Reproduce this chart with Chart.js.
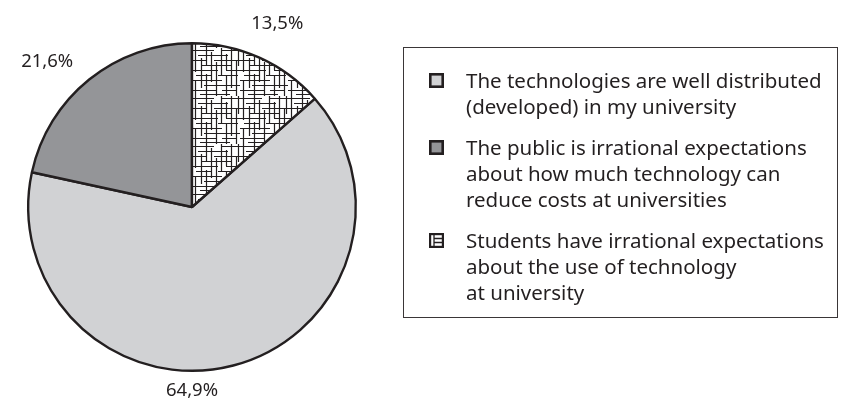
<!DOCTYPE html>
<html>
<head>
<meta charset="utf-8">
<script src="https://cdn.jsdelivr.net/npm/chart.js@4/dist/chart.umd.min.js"></script>
<style>
  html, body { margin: 0; padding: 0; background: #fff; }
  #wrap { position: relative; width: 858px; height: 407px; font-family: "Noto Sans", sans-serif; color: #231f20; }
  #pie { position: absolute; left: 0; top: 0; }
  #legend {
    position: absolute; left: 403px; top: 47px; width: 435px; height: 271px;
    box-sizing: border-box; border: 1px solid #3a3637; padding: 19px 0 0 0;
  }
  .item { display: flex; align-items: flex-start; margin-bottom: 15px; }
  .item canvas { margin: 6px 0 0 25px; flex: none; }
  .item .txt { margin-left: 22px; font-size: 20.5px; line-height: 26px; white-space: nowrap; }
</style>
</head>
<body>
<div id="wrap">
  <canvas id="pie" width="858" height="407"></canvas>
  <div id="legend"></div>
</div>
<script>
// answers, in legend order
const categories = [
  ['The technologies are well distributed', '(developed) in my university'],
  ['The public is irrational expectations', 'about how much technology can', 'reduce costs at universities'],
  ['Students have irrational expectations', 'about the use of technology', 'at university']
];
const shares = [64.9, 21.6, 13.5];
const shareLabels = ['64,9%', '21,6%', '13,5%'];

// where each percentage sits: angle from 12 o'clock and gap beyond the rim
const labelAngles = [180, 315, 25];
const labelGaps = [20, 41, 38];

const INK = '#231f20';

// crosshatch tile for the third slice
const hSegs = [
  [2, 0, 22], [2, 30, 48], [7, 6, 36], [12, 0, 14], [12, 22, 48], [17, 10, 40],
  [22, 0, 26], [22, 34, 48], [27, 4, 20], [27, 26, 46], [32, 0, 30], [37, 12, 48],
  [42, 0, 24], [42, 30, 44], [46, 8, 38]
];
const vSegs = [
  [3, 0, 24], [3, 32, 48], [9, 10, 40], [14, 0, 18], [14, 26, 48], [19, 4, 34],
  [24, 14, 48], [29, 0, 28], [34, 6, 22], [34, 28, 48], [39, 0, 40], [44, 12, 48],
  [46, 0, 18]
];

function makeHatch(ctx) {
  const tile = document.createElement('canvas');
  tile.width = 48; tile.height = 48;
  const t = tile.getContext('2d');
  t.fillStyle = '#fff';
  t.fillRect(0, 0, 48, 48);
  t.strokeStyle = INK;
  t.lineWidth = 1.2;
  t.beginPath();
  hSegs.forEach(([y, x1, x2]) => { t.moveTo(x1, y + 0.5); t.lineTo(x2, y + 0.5); });
  vSegs.forEach(([x, y1, y2]) => { t.moveTo(x + 0.5, y1); t.lineTo(x + 0.5, y2); });
  t.stroke();
  return ctx.createPattern(tile, 'repeat');
}

const ctx = document.getElementById('pie').getContext('2d');
const fills = ['#d1d2d4', '#949598', makeHatch(ctx)];

// percent labels around the pie
const sliceLabels = {
  id: 'sliceLabels',
  afterDraw(chart) {
    const c = chart.ctx;
    const arcs = chart.getDatasetMeta(0).data;
    c.save();
    c.font = '18.5px "Noto Sans"';
    c.fillStyle = INK;
    c.textAlign = 'center';
    c.textBaseline = 'middle';
    arcs.forEach((arc, i) => {
      const a = labelAngles[i] * Math.PI / 180;
      const r = arc.outerRadius + labelGaps[i];
      c.fillText(shareLabels[i], arc.x + r * Math.sin(a), arc.y - r * Math.cos(a));
    });
    c.restore();
  }
};

// boxed legend built from the chart's own items
function drawSwatch(cv, i) {
  const s = cv.getContext('2d');
  if (i < 2) {
    s.fillStyle = fills[i];
    s.fillRect(0, 0, 15, 15);
    s.strokeStyle = INK; s.lineWidth = 2.6;
    s.strokeRect(1.3, 1.3, 12.4, 12.4);
  } else {
    s.fillStyle = '#fff';
    s.fillRect(0, 0, 15, 15);
    s.strokeStyle = INK; s.lineWidth = 2.2;
    s.strokeRect(1.1, 1.1, 12.8, 12.8);
    s.lineWidth = 1.3;
    s.beginPath();
    s.moveTo(5, 1); s.lineTo(5, 14);
    s.moveTo(5, 5.5); s.lineTo(14, 5.5);
    s.moveTo(5, 9.5); s.lineTo(14, 9.5);
    s.stroke();
  }
}

const htmlLegend = {
  id: 'htmlLegend',
  afterUpdate(chart) {
    const box = document.getElementById('legend');
    box.innerHTML = '';
    chart.data.labels.forEach((lines, i) => {
      const row = document.createElement('div');
      row.className = 'item';
      const sw = document.createElement('canvas');
      sw.width = 15; sw.height = 15;
      drawSwatch(sw, i);
      const txt = document.createElement('div');
      txt.className = 'txt';
      txt.innerHTML = lines.join('<br>');
      row.appendChild(sw);
      row.appendChild(txt);
      box.appendChild(row);
    });
  }
};

const total = shares.reduce((a, b) => a + b, 0);

new Chart(ctx, {
  type: 'pie',
  data: {
    labels: categories,
    datasets: [{
      data: shares,
      backgroundColor: fills,
      borderColor: INK,
      borderWidth: 2.4
    }]
  },
  options: {
    responsive: false,
    animation: false,
    rotation: shares[2] / total * 360,
    layout: { padding: { left: 27, top: 42, right: 501, bottom: 35 } },
    plugins: {
      legend: { display: false },
      tooltip: { enabled: false }
    }
  },
  plugins: [sliceLabels, htmlLegend]
});
</script>
</body>
</html>
